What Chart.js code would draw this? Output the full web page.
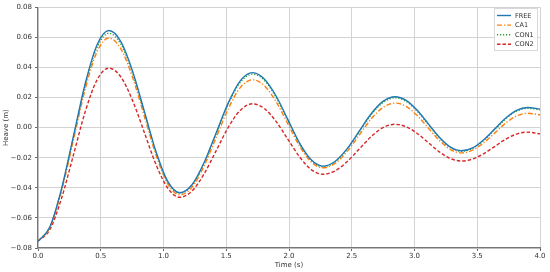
<!DOCTYPE html>
<html>
<head>
<meta charset="utf-8">
<style>
html,body{margin:0;padding:0;background:#fff;}
#wrap{width:550px;height:272px;position:relative;}
</style>
<script src="https://cdn.jsdelivr.net/npm/chart.js@4/dist/chart.umd.min.js"></script>
</head>
<body>
<div id="wrap"><canvas id="c" width="550" height="272"></canvas></div>
<script>
// Time samples (s)
const times = [0, 0.094, 0.188, 0.283, 0.377, 0.471, 0.565,
  0.659, 0.753, 0.848, 0.942, 1.036, 1.13,
  1.227, 1.323, 1.42, 1.517, 1.613, 1.71,
  1.803, 1.897, 1.99, 2.083, 2.177, 2.27,
  2.366, 2.462, 2.558, 2.653, 2.749, 2.845,
  2.933, 3.022, 3.11, 3.198, 3.287, 3.375,
  3.463, 3.55, 3.638, 3.725, 3.813, 3.9, 4.0];

// Heave (m)
const free = [-0.0755, -0.0661, -0.0405, -0.0055, 0.0295, 0.0551, 0.0645,
  0.0573, 0.0376, 0.0106, -0.0164, -0.0361, -0.0433,
  -0.0380, -0.0234, -0.0034, 0.0166, 0.0312, 0.0365,
  0.0323, 0.0210, 0.0055, -0.0101, -0.0214, -0.0256,
  -0.0225, -0.0141, -0.0026, 0.0090, 0.0174, 0.0205,
  0.0181, 0.0115, 0.0025, -0.0064, -0.0130, -0.0154,
  -0.0135, -0.0082, -0.0010, 0.0062, 0.0115, 0.0134, 0.0123];

const ca1 = [-0.0755, -0.0665, -0.0418, -0.0080, 0.0258, 0.0505, 0.0595,
  0.0525, 0.0335, 0.0074, -0.0187, -0.0377, -0.0447,
  -0.0396, -0.0256, -0.0065, 0.0127, 0.0267, 0.0318,
  0.0279, 0.0172, 0.0026, -0.0121, -0.0228, -0.0267,
  -0.0238, -0.0160, -0.0052, 0.0056, 0.0134, 0.0163,
  0.0141, 0.0080, -0.0003, -0.0085, -0.0146, -0.0168,
  -0.0150, -0.0102, -0.0037, 0.0029, 0.0077, 0.0095, 0.0085];

const con1 = [-0.0755, -0.0662, -0.0410, -0.0064, 0.0282, 0.0534, 0.0627,
  0.0556, 0.0362, 0.0096, -0.0170, -0.0364, -0.0435,
  -0.0382, -0.0238, -0.0040, 0.0158, 0.0302, 0.0355,
  0.0314, 0.0201, 0.0048, -0.0106, -0.0219, -0.0260,
  -0.0229, -0.0146, -0.0031, 0.0084, 0.0167, 0.0198,
  0.0174, 0.0109, 0.0021, -0.0068, -0.0133, -0.0157,
  -0.0138, -0.0086, -0.0015, 0.0057, 0.0109, 0.0128, 0.0118];

const con2 = [-0.0755, -0.0678, -0.0468, -0.0180, 0.0108, 0.0318, 0.0395,
  0.0338, 0.0181, -0.0034, -0.0249, -0.0405, -0.0463,
  -0.0421, -0.0308, -0.0153, 0.0003, 0.0116, 0.0158,
  0.0127, 0.0041, -0.0076, -0.0193, -0.0279, -0.0310,
  -0.0288, -0.0227, -0.0144, -0.0061, 0.0000, 0.0022,
  0.0006, -0.0039, -0.0100, -0.0161, -0.0206, -0.0222,
  -0.0209, -0.0174, -0.0126, -0.0078, -0.0043, -0.0030, -0.0042];

const seriesNames = ['FREE', 'CA1', 'CON1', 'CON2'];
const xTicks = [0, 0.5, 1.0, 1.5, 2.0, 2.5, 3.0, 3.5, 4.0];
const yTicks = [-0.08, -0.06, -0.04, -0.02, 0.00, 0.02, 0.04, 0.06, 0.08];

const pts = arr => arr.map((v, i) => ({x: times[i], y: v}));
const FONT = 'DejaVu Sans';

const styles = [
  {color: '#1f77b4', dash: []},
  {color: '#ff7f0e', dash: [5, 2, 1.2, 2]},
  {color: '#2ca02c', dash: [1.2, 1.8]},
  {color: '#d62728', dash: [3.5, 2]}
];
const values = [free, ca1, con1, con2];

const datasets = values.map((arr, i) => ({
  label: seriesNames[i],
  data: pts(arr),
  borderColor: styles[i].color,
  borderDash: styles[i].dash,
  borderWidth: 1.4,
  pointRadius: 0,
  fill: false,
  cubicInterpolationMode: 'monotone'
}));

const legendPlugin = {
  id: 'customLegend',
  afterDraw(chart) {
    const ctx = chart.ctx;
    const x0 = 494, y0 = 8, w = 43, h = 42;
    ctx.save();
    ctx.fillStyle = 'rgba(255,255,255,0.85)';
    ctx.strokeStyle = '#d8d8d8';
    ctx.lineWidth = 1;
    ctx.fillRect(x0, y0, w, h);
    ctx.strokeRect(x0 + 0.5, y0 + 0.5, w, h);
    ctx.font = '6.5px "' + FONT + '"';
    ctx.textBaseline = 'middle';
    ctx.fillStyle = '#333';
    seriesNames.forEach((name, i) => {
      const y = 15.5 + i * 9.6;
      ctx.beginPath();
      ctx.setLineDash(styles[i].dash);
      ctx.strokeStyle = styles[i].color;
      ctx.lineWidth = 1.4;
      ctx.moveTo(497, y);
      ctx.lineTo(511, y);
      ctx.stroke();
      ctx.setLineDash([]);
      ctx.fillText(name, 515, y + 0.5);
    });
    ctx.restore();
  }
};

new Chart(document.getElementById('c'), {
  type: 'line',
  data: {datasets},
  options: {
    responsive: false,
    animation: false,
    events: [],
    layout: {padding: {top: 7, right: 10, left: 0, bottom: 0}},
    plugins: {legend: {display: false}, tooltip: {enabled: false}},
    scales: {
      x: {
        type: 'linear',
        min: 0, max: 4,
        afterBuildTicks: s => { s.ticks = xTicks.map(v => ({value: v})); },
        afterFit: s => { s.height = 24; },
        ticks: {
          callback: v => v.toFixed(1),
          font: {family: FONT, size: 7},
          color: '#333',
          padding: 1,
          maxRotation: 0,
          autoSkip: false
        },
        grid: {color: '#d3d3d3', lineWidth: 1, tickLength: 3, tickColor: '#666'},
        border: {display: true, color: '#777', width: 1.2},
        title: {display: true, text: 'Time (s)', font: {family: FONT, size: 7}, color: '#333', padding: {top: 0, bottom: 3}}
      },
      y: {
        min: -0.08, max: 0.08,
        afterBuildTicks: s => { s.ticks = yTicks.map(v => ({value: v})); },
        afterFit: s => { s.width = 38; },
        ticks: {
          callback: v => (v < -1e-9 ? '\u2212' : '') + Math.abs(v).toFixed(2),
          font: {family: FONT, size: 7},
          color: '#333',
          padding: 3,
          autoSkip: false
        },
        grid: {color: '#d3d3d3', lineWidth: 1, tickLength: 3, tickColor: '#666'},
        border: {display: true, color: '#777', width: 1.2},
        title: {display: true, text: 'Heave (m)', font: {family: FONT, size: 7}, color: '#333', padding: {top: 2, bottom: 0}}
      }
    }
  },
  plugins: [legendPlugin]
});
</script>
</body>
</html>
